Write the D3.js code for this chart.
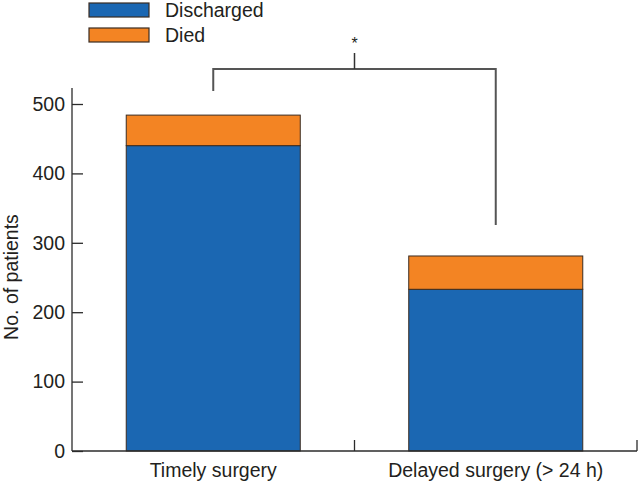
<!DOCTYPE html>
<html><head><meta charset="utf-8">
<script src="https://cdn.jsdelivr.net/npm/d3@7"></script>
<style>body{margin:0;background:#fff}svg{display:block}text{font-family:"Liberation Sans",Arial,sans-serif;fill:#231f20}</style>
</head><body><div id="chart"></div>
<script>
const categories = ["Timely surgery", "Delayed surgery (> 24 h)"];
const discharged = [440, 233];
const died = [44, 48];
const seriesNames = ["Discharged", "Died"];
const seriesColors = ["#1b67b2", "#f38423"];
const yTicks = [0, 100, 200, 300, 400, 500];

const W = 639, H = 487;
const FS = "19.5px";
const svg = d3.select("#chart").append("svg").attr("width", W).attr("height", H);
const x = d3.scaleBand().domain(categories).range([72, 637]).padding(0);
const y = d3.scaleLinear().domain([0, 500]).range([451, 104]);
const barW = x.bandwidth() * 0.616;
const ink = "#2b2b2b";

// bars
const stackData = categories.map((c, i) => ({cat: c, Discharged: discharged[i], Died: died[i]}));
const stack = d3.stack().keys(seriesNames)(stackData);
stack.forEach((s, si) => {
  svg.append("g").selectAll("rect").data(s).join("rect")
    .attr("x", d => x(d.data.cat) + x.bandwidth() / 2 - barW / 2)
    .attr("width", barW)
    .attr("y", d => y(d[1]))
    .attr("height", d => y(d[0]) - y(d[1]))
    .attr("fill", seriesColors[si])
    .attr("stroke", "#3a2c22").attr("stroke-width", 1);
});

// y axis
const ya = svg.append("g").attr("transform", "translate(72,0)")
  .call(d3.axisLeft(y).tickValues(yTicks).tickSize(-11).tickPadding(7));
ya.select(".domain").attr("d", `M0,${y(500) - 16}V${y(0)}`).attr("stroke", ink).attr("stroke-width", 1.3);
ya.selectAll(".tick line").attr("stroke", ink).attr("stroke-width", 1.3);
ya.selectAll(".tick text").style("font-size", FS).attr("fill", "#231f20").style("font-family", '"Liberation Sans",Arial,sans-serif');

// x axis
const xa = svg.append("g").attr("transform", `translate(0,${y(0)})`);
xa.append("line").attr("x1", 72).attr("x2", 637).attr("stroke", ink).attr("stroke-width", 1.3);
const bounds = [x(categories[1]), x(categories[1]) + x.bandwidth()];
bounds.forEach(b => xa.append("line").attr("x1", b).attr("x2", b).attr("y1", 0).attr("y2", -11).attr("stroke", ink).attr("stroke-width", 1.3));
categories.forEach(c => xa.append("text").attr("x", x(c) + x.bandwidth() / 2).attr("y", 26)
  .attr("text-anchor", "middle").style("font-size", FS).text(c));

// y label
svg.append("text").attr("transform", `translate(18,277) rotate(-90)`)
  .attr("text-anchor", "middle").style("font-size", FS).text("No. of patients");

// significance bracket
const cx = categories.map(c => x(c) + x.bandwidth() / 2);
const bracketY = 69;
svg.append("path")
  .attr("d", `M${cx[0]},91V${bracketY}H${cx[1]}V225`)
  .attr("fill", "none").attr("stroke", "#555").attr("stroke-width", 2);
const mid = (cx[0] + cx[1]) / 2;
svg.append("line").attr("x1", mid).attr("x2", mid).attr("y1", bracketY).attr("y2", 53).attr("stroke", "#333").attr("stroke-width", 1.5);
svg.append("text").attr("x", mid).attr("y", 49).attr("text-anchor", "middle").style("font-size", "16px").attr("fill", "#444").text("*");

// legend
const lg = svg.append("g");
seriesNames.forEach((n, i) => {
  lg.append("rect").attr("x", 89).attr("y", 3 + i * 25).attr("width", 60).attr("height", 14)
    .attr("fill", seriesColors[i]).attr("stroke", "#3a2c22").attr("stroke-width", 1.2);
  lg.append("text").attr("x", 165).attr("y", 17 + i * 25).style("font-size", FS).text(n);
});
</script></body></html>
